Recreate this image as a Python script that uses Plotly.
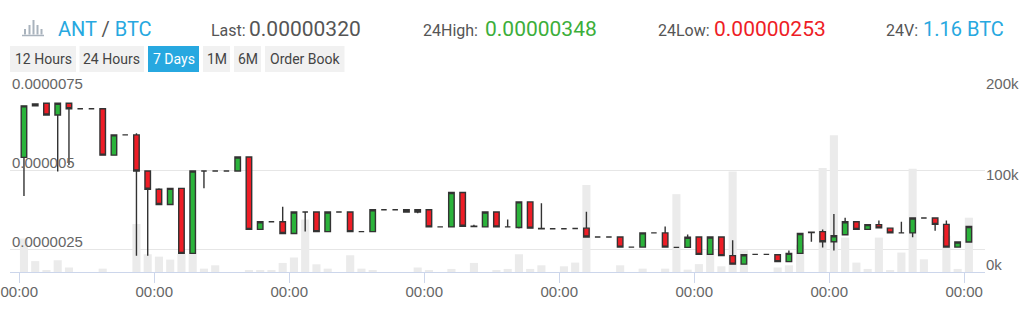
import numpy as np
import pandas as pd
import plotly.graph_objects as go

# ---------------- data ----------------
START = "2017-06-12 00:00"          # first 00:00 tick
CANDLE_OFFSET_MIN = 50               # candles sit ~50 min after the hour grid
CANDLE_HOURS = 2
PRICE_UNIT = 1e-6

OPEN = [5.40, 7.03, 7.11, 6.74, 7.11, 6.94, 6.94, 6.94, 5.47, 6.11,
        6.11, 4.97, 4.39, 3.91, 4.42, 2.36, 4.97, 4.97, 4.97, 4.97,
        5.41, 3.12, 3.36, 3.36, 2.99, 3.67, 3.67, 3.05, 3.67, 3.67,
        3.05, 3.05, 3.74, 3.74, 3.74, 3.67, 3.74, 3.20, 3.20, 4.29,
        3.22, 3.20, 3.67, 3.20, 3.18, 3.99, 3.15, 3.14, 3.14, 3.15,
        3.16, 2.88, 2.88, 2.88, 2.56, 2.56, 3.01, 3.01, 2.55, 2.55,
        2.88, 2.33, 2.88, 2.29, 2.02, 2.33, 2.33, 2.32, 2.10, 2.36,
        3.03, 3.05, 2.73, 2.95, 3.36, 3.12, 3.27, 3.16, 3.01, 3.01,
        3.48, 3.48, 3.28, 2.56, 2.72]
HIGH = [7.03, 7.09, 7.11, 7.11, 7.11, 6.94, 6.94, 6.94, 6.11, 6.11,
        6.16, 4.97, 4.42, 4.42, 4.42, 4.97, 4.97, 4.97, 4.97, 5.41,
        5.41, 3.36, 3.36, 3.84, 3.67, 3.67, 3.67, 3.67, 3.67, 3.67,
        3.05, 3.74, 3.74, 3.74, 3.74, 3.74, 3.74, 3.20, 4.29, 4.29,
        3.27, 3.67, 3.67, 3.43, 3.99, 3.99, 3.95, 3.14, 3.14, 3.15,
        3.68, 2.88, 2.88, 2.88, 2.56, 3.01, 3.01, 3.21, 2.57, 2.96,
        2.88, 2.88, 2.88, 2.78, 2.32, 2.33, 2.33, 2.32, 2.45, 2.99,
        3.04, 3.12, 3.61, 3.49, 3.36, 3.27, 3.40, 3.16, 3.36, 3.48,
        3.48, 3.48, 3.40, 2.72, 3.21]
LOW = [4.18, 7.03, 6.74, 4.95, 5.16, 6.94, 6.94, 5.47, 5.47, 6.11,
       2.29, 2.29, 3.91, 3.91, 2.36, 2.36, 4.42, 4.97, 4.97, 4.97,
       3.12, 3.12, 3.36, 2.99, 2.99, 3.05, 3.05, 3.05, 3.67, 3.05,
       3.05, 3.05, 3.74, 3.74, 3.67, 3.63, 3.20, 3.20, 3.20, 3.22,
       3.20, 3.20, 3.20, 3.20, 3.15, 3.16, 3.14, 3.14, 3.14, 3.14,
       2.88, 2.88, 2.88, 2.56, 2.56, 2.56, 3.01, 2.56, 2.54, 2.55,
       2.33, 2.33, 2.29, 2.02, 2.02, 2.33, 2.33, 2.10, 2.10, 2.36,
       2.73, 2.55, 2.45, 2.95, 3.12, 3.12, 3.17, 3.01, 3.01, 2.87,
       3.48, 3.08, 2.56, 2.56, 2.72]
CLOSE = [7.03, 7.09, 6.74, 7.11, 6.94, 6.94, 6.94, 5.47, 6.11, 6.11,
         4.97, 4.39, 3.91, 4.42, 2.36, 4.97, 4.97, 4.97, 4.97, 5.41,
         3.12, 3.36, 3.36, 2.99, 3.67, 3.67, 3.05, 3.67, 3.67, 3.05,
         3.05, 3.74, 3.74, 3.74, 3.67, 3.74, 3.20, 3.20, 4.29, 3.22,
         3.21, 3.67, 3.20, 3.20, 3.99, 3.16, 3.14, 3.14, 3.14, 3.15,
         2.88, 2.88, 2.88, 2.56, 2.56, 3.01, 3.01, 2.56, 2.55, 2.87,
         2.33, 2.88, 2.29, 2.02, 2.32, 2.33, 2.33, 2.10, 2.36, 2.99,
         3.02, 2.73, 2.92, 3.36, 3.12, 3.27, 3.17, 3.01, 3.01, 3.48,
         3.48, 3.28, 2.56, 2.72, 3.21]
VOLUME_K = [37, 12, 2, 13, 5, 0, 0, 3.7, 0, 0,
            53, 19.6, 17, 13.7, 20, 20, 3.7, 7.4, 0, 0,
            2, 2, 2, 10, 16, 58, 8.5, 3.7, 0, 18.5,
            3.7, 2, 0, 0, 0, 5, 2, 0, 3.4, 0,
            10, 0, 2, 3.4, 19.6, 3.4, 7.4, 0, 6.3, 10.4,
            96, 0, 0, 7.4, 0, 3.7, 0, 3.7, 86, 2.6,
            8.7, 25, 6.3, 111, 24, 0, 0, 5, 7.4, 30,
            0, 115, 151, 38, 10.4, 3.4, 38, 2, 21.5, 114,
            14, 0, 40, 3.4, 60]

PRICE_TICKS = [0.0000025, 0.000005, 0.0000075]
PRICE_TICK_TEXT = ["0.0000025", "0.000005", "0.0000075"]
VOL_TICKS = [0, 100000, 200000]
VOL_TICK_TEXT = ["0k", "100k", "200k"]
X_TICK_FORMAT = "%H:%M"

PAIR_BASE, PAIR_QUOTE = "ANT", "BTC"
HEADER_LABELS = ["Last:", "24High:", "24Low:", "24V:"]
HEADER_VALUES = ["0.00000320", "0.00000348", "0.00000253", "1.16 BTC"]
BUTTONS = ["12 Hours", "24 Hours", "7 Days", "1M", "6M", "Order Book"]
ACTIVE_BUTTON = "7 Days"

# ---------------- styles / layout geometry ----------------
W, H = 1024, 311
ML, MR, MT, MB = 10, 39, 91, 39
BLUE = "#27a8e0"
GREEN = "#2bb33b"
RED = "#ee1d26"
GREY_TXT = "#555555"
AX_TXT = "#666666"

start = pd.Timestamp(START)
times = start + pd.Timedelta(minutes=CANDLE_OFFSET_MIN) + pd.to_timedelta(
    np.arange(len(OPEN)) * CANDLE_HOURS, unit="h")
scale = lambda a: [v * PRICE_UNIT for v in a]

fig = go.Figure()
fig.add_trace(go.Bar(
    x=times, y=[v * 1000 for v in VOLUME_K], yaxis="y",
    marker=dict(color="#ebebeb", line=dict(width=0)), hoverinfo="skip"))
fig.add_trace(go.Candlestick(
    x=times, open=scale(OPEN), high=scale(HIGH), low=scale(LOW), close=scale(CLOSE),
    yaxis="y2",
    increasing=dict(fillcolor=GREEN, line=dict(color="#333333", width=1.4)),
    decreasing=dict(fillcolor=RED, line=dict(color="#333333", width=1.4)),
    whiskerwidth=0))

pw, ph = W - ML - MR, H - MT - MB
def px(x): return (x - ML) / pw
def py(y): return (H - MB - y) / ph

HFONT = "Roboto, Lato, sans-serif"
ann = []
shapes = []
# pair title
ann.append(dict(text=f"<span style='color:{BLUE}'>{PAIR_BASE}</span> / "
                     f"<span style='color:{BLUE}'>{PAIR_QUOTE}</span>",
                x=px(56), y=py(28.5), xanchor="left", yanchor="middle",
                font=dict(family=HFONT, size=20, color=GREY_TXT)))
label_x = [209, 421, 656, 884]
value_x = [247, 483, 712, 921]
value_colors = [GREY_TXT, "#3cae3a", RED, BLUE]
value_sizes = [21, 21, 21, 20]
for lab, lx, val, vx, vc, vs in zip(HEADER_LABELS, label_x, HEADER_VALUES, value_x,
                                     value_colors, value_sizes):
    ann.append(dict(text=lab, x=px(lx), y=py(30), xanchor="left", yanchor="middle",
                    font=dict(family=HFONT, size=16, color=GREY_TXT)))
    ann.append(dict(text=val, x=px(vx), y=py(28.5), xanchor="left", yanchor="middle",
                    font=dict(family=HFONT, size=vs, color=vc)))

# icon (small bar chart)
icon_col = "#a9b3bd"
shapes.append(dict(type="line", xref="paper", yref="paper", x0=px(22), x1=px(44),
                   y0=py(35.5), y1=py(35.5), line=dict(color=icon_col, width=1.5)))
for bx, top in zip([25, 29.5, 33.5, 37.5, 41.5], [29, 25, 20, 25, 29]):
    shapes.append(dict(type="line", xref="paper", yref="paper", x0=px(bx), x1=px(bx),
                       y0=py(34.5), y1=py(top), line=dict(color=icon_col, width=2)))

# buttons
btn_x = [(10, 76), (79.5, 144), (148, 199), (203, 230), (234, 261), (265, 344.5)]
for name, (x0, x1) in zip(BUTTONS, btn_x):
    active = name == ACTIVE_BUTTON
    shapes.append(dict(type="rect", xref="paper", yref="paper", x0=px(x0), x1=px(x1),
                       y0=py(46), y1=py(72), line=dict(width=0),
                       fillcolor=BLUE if active else "#f1f1f1", layer="below"))
    ann.append(dict(text=name, x=px((x0 + x1) / 2), y=py(59), xanchor="center",
                    yanchor="middle",
                    font=dict(family=HFONT, size=14, color="white" if active else "#444444")))

# price axis labels (drawn above their grid lines, inside the plot)
for v, t in zip(PRICE_TICKS, PRICE_TICK_TEXT):
    ann.append(dict(text=t, x=0, xref="paper", y=v, yref="y2", xanchor="left",
                    yanchor="bottom", yshift=-3,
                    font=dict(family="Liberation Sans, Arial, sans-serif", size=15,
                              color=AX_TXT)))

for a in ann:
    a.setdefault("xref", "paper")
    a.setdefault("yref", "paper")
    a["showarrow"] = False

price_lo = 7.5 - (H - MB - MT) / 31.6
fig.update_layout(
    width=W, height=H, margin=dict(l=ML, r=MR, t=MT, b=MB, autoexpand=False),
    paper_bgcolor="white", plot_bgcolor="white", showlegend=False,
    bargap=0.28, annotations=ann, shapes=shapes,
    font=dict(family="Liberation Sans, Arial, sans-serif"),
    xaxis=dict(type="date", rangeslider=dict(visible=False), automargin=False,
               range=[start - pd.Timedelta(hours=1.65), start + pd.Timedelta(hours=171.7)],
               dtick=86400000, tick0=start, tickformat=X_TICK_FORMAT,
               showgrid=False, showline=True, linecolor="#ccd6eb", linewidth=1,
               ticks="outside", ticklen=10, tickcolor="#ccd6eb", ticklabelstandoff=-4,
               tickfont=dict(size=15, color=AX_TXT), zeroline=False),
    yaxis=dict(side="right", range=[0, 200000], tickvals=VOL_TICKS, ticktext=VOL_TICK_TEXT,
               ticklabelposition="outside", ticklabelshift=-7, automargin=False,
               showgrid=False, zeroline=False,
               showline=False, ticks="", tickfont=dict(size=15, color=AX_TXT)),
    yaxis2=dict(overlaying="y", side="left", range=[price_lo * PRICE_UNIT, 7.5 * PRICE_UNIT],
                tickvals=PRICE_TICKS, showticklabels=False, automargin=False,
                showgrid=True, gridcolor="#e6e6e6",
                gridwidth=1, zeroline=False, showline=False, ticks=""),
)

fig.write_html("out.html")
